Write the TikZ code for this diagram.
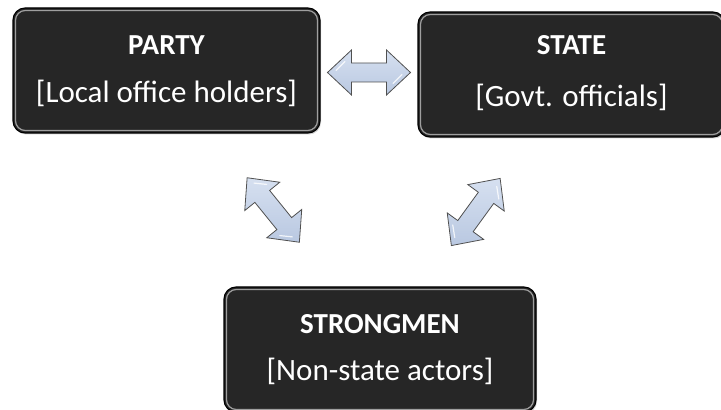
\documentclass[tikz,border=0pt]{standalone}
\usepackage{fontspec}
\setmainfont{Carlito}
\usetikzlibrary{calc,shadows}
\definecolor{boxfill}{RGB}{38,38,38}
\definecolor{arrowfill}{RGB}{185,200,225}
\definecolor{arrowtop}{RGB}{214,224,240}
\definecolor{arrowline}{RGB}{80,80,80}
\tikzset{
  box/.style={draw=black, line width=1.1pt, fill=boxfill, rounded corners=12pt,
    minimum width=307pt, minimum height=125pt, inner sep=0pt,
    drop shadow={shadow xshift=1pt, shadow yshift=-1.5pt, opacity=0.35}},
  bevel/.style={draw=gray!75, line width=1.2pt, rounded corners=10pt},
  titletext/.style={text=white, font=\bfseries\fontsize{29}{29}\selectfont, anchor=base, inner sep=0pt},
  subtext/.style={text=white, font=\fontsize{31}{31}\selectfont, anchor=base, inner sep=0pt},
  arrowbody/.style={draw=arrowline, line width=0.8pt, line join=miter,
    top color=arrowtop, bottom color=arrowfill},
  dblarrow/.pic={
    \path[arrowbody] (-41.5,0) -- (-17.5,22.5) -- (-17.5,9.5) -- (17.5,9.5)
      -- (17.5,22.5) -- (41.5,0) -- (17.5,-22.5) -- (17.5,-9.5)
      -- (-17.5,-9.5) -- (-17.5,-22.5) -- cycle;
    \draw[white, line width=1.2pt, line cap=round, opacity=0.8]
      (-33,2) -- (-24,11);
    \draw[white, line width=1.2pt, line cap=round, opacity=0.8]
      (33,-2) -- (24,-11);
  }
}
\begin{document}
\begin{tikzpicture}[x=1pt, y=1pt]
  \useasboundingbox (0,0) rectangle (721,410);

  % the three actor boxes
  \node[box] (party) at (166.5,339.5) {};
  \node[box] (state) at (571.5,335.5) {};
  \node[box, minimum width=312pt] (strong) at (380,60.5) {};

  % inner bevel lines
  \draw[bevel] ($(party.south west)+(3,3)$) rectangle ($(party.north east)-(3,3)$);
  \draw[bevel] ($(state.south west)+(3,3)$) rectangle ($(state.north east)-(3,3)$);
  \draw[bevel] ($(strong.south west)+(3,3)$) rectangle ($(strong.north east)-(3,3)$);

  % labels
  \node[titletext] (partyT) at ([yshift=15.5pt]party.center) {PARTY};
  \node[subtext] (partyS) at ([yshift=-32.5pt]party.center) {[Local office holders]};
  \node[titletext] (stateT) at ([yshift=19.5pt]state.center) {STATE};
  \node[subtext] (stateS) at ([yshift=-32.5pt]state.center) {[Govt. officials]};
  \node[titletext] (strongT) at ([yshift=15.5pt]strong.center) {STRONGMEN};
  \node[subtext] (strongS) at ([yshift=-31.5pt]strong.center) {[Non-state actors]};

  % two-way relations
  \pic at ($(party.east)!0.5!(state.west)$) {dblarrow};
  \pic[rotate=-51] at ($(party.south)!0.5!(strong.north)$) {dblarrow};
  \pic[rotate=54] at ($(state.south)!0.5!(strong.north)$) {dblarrow};
\end{tikzpicture}
\end{document}
